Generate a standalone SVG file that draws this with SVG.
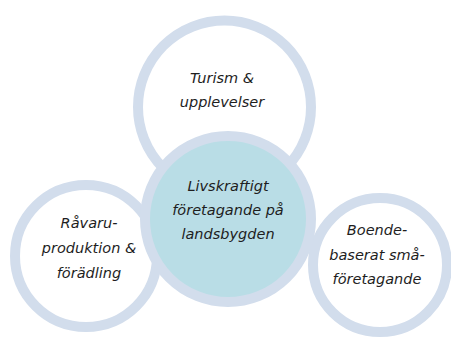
<svg xmlns="http://www.w3.org/2000/svg" width="451" height="338" viewBox="0 0 451 338">
<style>
.ring{fill:#ffffff;stroke:#d2ddec;stroke-width:10}
.hub{fill:#b9dde6;stroke:#d2ddec;stroke-width:10}
text{font-family:"DejaVu Sans","Liberation Sans",sans-serif;font-style:italic;font-size:14.5px;fill:#1e1e1e;text-anchor:middle}
</style>
<rect width="451" height="338" fill="#ffffff"/>
<g id="node-top"><circle class="ring" cx="224.5" cy="107" r="86.5"/>
<text x="222" y="83">Turism &amp;</text><text x="222" y="107">upplevelser</text></g>
<g id="node-left"><circle class="ring" cx="86" cy="256" r="71"/>
<text x="89" y="228">Råvaru-</text><text x="89" y="253">produktion &amp;</text><text x="89" y="278">förädling</text></g>
<g id="node-right"><circle class="ring" cx="380" cy="265" r="67"/>
<text x="377" y="235">Boende-</text><text x="377" y="260">baserat små-</text><text x="377" y="284">företagande</text></g>
<g id="node-center"><circle class="hub" cx="228" cy="219" r="83"/>
<text x="228" y="191">Livskraftigt</text><text x="228" y="215">företagande på</text><text x="228" y="239">landsbygden</text></g>
<g id="connectors"></g>
</svg>
